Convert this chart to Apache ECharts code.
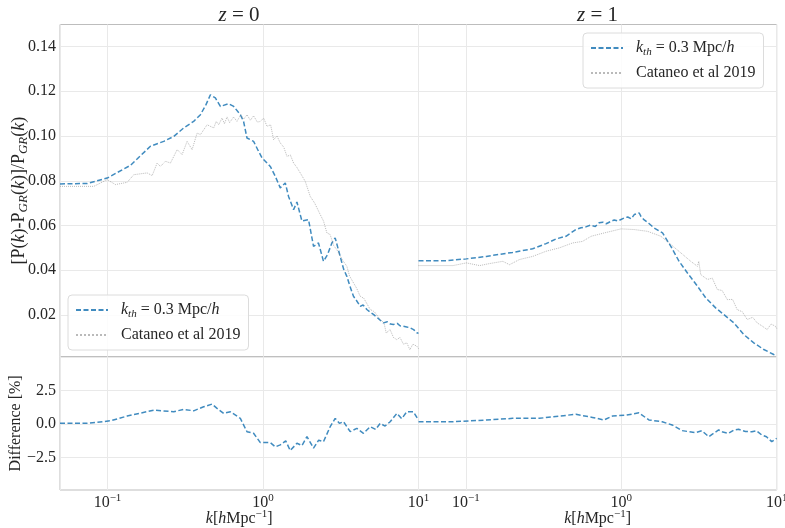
<!DOCTYPE html>
<html><head><meta charset="utf-8">
<script src="https://cdn.jsdelivr.net/npm/echarts@6/dist/echarts.min.js"></script>
<style>html,body{margin:0;padding:0;background:#fff}#c{width:785px;height:528px}</style>
</head><body><div id="c"></div>
<script>
// ---------------- data ----------------
const KMIN = 0.0495, KMAX = 10;
const NAME_K = 'k_th = 0.3 Mpc/h';
const NAME_C = 'Cataneo et al 2019';
const titles = ['z = 0', 'z = 1'];
const topTicks = [0.02, 0.04, 0.06, 0.08, 0.10, 0.12, 0.14];
const diffTicks = [-2.5, 0, 2.5];

// z = 0, k_th = 0.3
const z0BlueK = [0.0495,0.0741,0.0995,0.1406,0.1888,0.230,0.2666,0.309,0.358,0.396,0.430,0.459,0.494,0.532,0.601,0.648,0.715,0.750,0.789,0.870,0.937,0.986,1.114,1.199,1.291,1.391,1.460,1.573,1.653,1.780,1.963,2.113,2.274,2.449,2.60,2.773,2.912,3.136,3.30,3.461,3.62,3.818,3.95,4.05,4.215,4.40,4.654,4.85,5.131,5.40,5.65,5.953,6.30,6.60,6.90,7.30,7.60,8.00,8.40,8.83,9.30,9.75,10];
const z0BlueV = [0.0786,0.0788,0.0812,0.0869,0.0954,0.0976,0.0998,0.1036,0.1065,0.1095,0.1140,0.1184,0.1170,0.1132,0.1144,0.1132,0.1095,0.1065,0.0991,0.0976,0.0931,0.0902,0.0864,0.0820,0.0768,0.0790,0.0730,0.0671,0.0705,0.0620,0.0626,0.0507,0.0522,0.0440,0.0470,0.0522,0.0545,0.0462,0.0405,0.0373,0.0330,0.0284,0.0270,0.0262,0.0239,0.0245,0.0225,0.0215,0.0203,0.0190,0.0178,0.0165,0.0170,0.0160,0.0158,0.0163,0.0152,0.0150,0.0147,0.0143,0.0135,0.0121,0.0118];
// z = 0, Cataneo et al 2019
const z0GreyK = [0.0495,0.0817,0.0995,0.1125,0.1338,0.1476,0.1799,0.1937,0.2086,0.2189,0.236,0.254,0.2805,0.302,0.325,0.350,0.377,0.396,0.437,0.482,0.500,0.519,0.545,0.565,0.587,0.610,0.648,0.680,0.720,0.750,0.790,0.829,0.870,0.920,0.961,1.010,1.061,1.120,1.170,1.230,1.291,1.360,1.426,1.500,1.573,1.650,1.736,1.870,2.013,2.150,2.334,2.450,2.576,2.700,2.850,2.986,3.100,3.250,3.461,3.600,3.818,4.000,4.215,4.450,4.890,5.200,5.670,6.000,6.200,6.570,6.900,7.260,7.600,8.000,8.410,8.800,9.200,9.750,10];
const z0GreyV = [0.0775,0.0775,0.0805,0.0783,0.0793,0.0827,0.0835,0.0823,0.0879,0.0864,0.0887,0.0879,0.0939,0.0917,0.0976,0.0939,0.1013,0.1006,0.1050,0.1036,0.1065,0.1050,0.1080,0.1055,0.1085,0.1060,0.1085,0.1065,0.1095,0.1075,0.1095,0.1070,0.1090,0.1062,0.1065,0.1080,0.1043,0.1050,0.0983,0.1000,0.0969,0.0950,0.0909,0.0915,0.0879,0.0860,0.0835,0.0797,0.0730,0.0700,0.0649,0.0620,0.0567,0.0560,0.0510,0.0492,0.0470,0.0445,0.0418,0.0375,0.0344,0.0320,0.0284,0.0275,0.0225,0.0215,0.0180,0.0165,0.0120,0.0135,0.0100,0.0090,0.0100,0.0070,0.0076,0.0045,0.0070,0.0061,0.0050];
// z = 1, k_th = 0.3
const z1BlueK = [0.0495,0.0749,0.1006,0.1351,0.200,0.2688,0.3277,0.3797,0.440,0.510,0.550,0.591,0.630,0.680,0.7195,0.760,0.800,0.859,0.900,0.950,1.045,1.100,1.160,1.211,1.250,1.304,1.340,1.404,1.500,1.627,1.842,2.083,2.354,2.665,3.088,3.491,4.047,4.573,5.30,6.14,7.12,8.26,9.57,10];
const z1BlueV = [0.0443,0.0443,0.0451,0.0462,0.0480,0.0496,0.0519,0.0540,0.0552,0.0582,0.0590,0.0594,0.0601,0.0596,0.0612,0.0615,0.0608,0.0619,0.0625,0.0620,0.0634,0.0638,0.0630,0.0649,0.0652,0.0656,0.0640,0.0625,0.0610,0.0589,0.0567,0.0507,0.0440,0.0388,0.0329,0.0277,0.0232,0.0202,0.0165,0.0113,0.0076,0.0046,0.0024,0.0020];
// z = 1, Cataneo et al 2019
const z1GreyK = [0.0495,0.0825,0.1006,0.1224,0.1418,0.1727,0.1907,0.2209,0.2688,0.3277,0.3987,0.485,0.5623,0.6395,0.778,0.9956,1.211,1.476,1.797,2.083,2.414,2.798,3.088,3.15,3.243,3.58,3.85,4.15,4.45,4.81,5.2,5.57,6.0,6.46,7.0,7.49,8.1,8.68,9.2,9.81,10];
const z1GreyV = [0.0421,0.0421,0.0433,0.0421,0.0430,0.0440,0.0425,0.0448,0.0462,0.0485,0.0500,0.0522,0.0529,0.0552,0.0567,0.0585,0.0582,0.0574,0.0552,0.0515,0.0478,0.0440,0.0418,0.0440,0.0381,0.0359,0.0365,0.0314,0.0310,0.0269,0.0270,0.0224,0.0215,0.0180,0.0190,0.0165,0.0150,0.0135,0.0160,0.0150,0.0140];
// Difference [%]
const z0DiffK = [0.0495,0.0742,0.1046,0.1338,0.1983,0.2666,0.309,0.358,0.4153,0.4705,0.5065,0.5584,0.6166,0.715,0.789,0.870,0.961,1.114,1.20,1.291,1.40,1.497,1.653,1.78,1.917,2.113,2.28,2.449,2.705,2.912,3.10,3.294,3.636,4.015,4.428,4.89,5.30,5.67,6.10,6.57,7.26,7.80,8.41,9.27,10];
const z0DiffV = [0.05,0.05,0.24,0.59,1.03,0.91,1.09,0.98,1.28,1.48,1.16,0.79,0.91,0.42,-0.57,-0.69,-1.38,-1.38,-1.70,-1.55,-1.25,-1.97,-1.43,-1.60,-0.94,-1.79,-1.20,-1.31,-0.20,0.42,0.05,0.17,-0.57,-0.32,-0.69,-0.20,-0.40,0.05,-0.15,0.17,0.79,0.40,0.91,0.91,0.30];
const z1DiffK = [0.0495,0.0825,0.1351,0.200,0.2969,0.361,0.510,0.6518,0.7744,0.8756,1.072,1.299,1.505,1.832,2.123,2.46,3.0,3.3,3.65,4.23,4.5,4.9,5.3,5.68,6.3,6.92,7.4,8.01,8.6,9.29,10];
const z1DiffV = [0.17,0.17,0.30,0.42,0.42,0.54,0.72,0.49,0.30,0.59,0.66,0.83,0.30,0.17,-0.07,-0.49,-0.64,-0.50,-0.94,-0.44,-0.60,-0.69,-0.45,-0.39,-0.55,-0.57,-0.50,-0.81,-0.95,-1.31,-1.06];

// ---------------- chart ----------------
const FONT = 'Liberation Serif';
const TXT = '#262626';
const BLUE = 'rgba(31,119,180,0.85)';
const GREY = 'rgba(130,130,130,0.55)';
const GRIDC = '#e9e9e9';
const FRAME = '#bdbdbd';
const pairs = (ks, vs) => ks.map((k, i) => [k, vs[i]]);

const rich = {
  r: {fontFamily: FONT, fontSize: 16, color: TXT, lineHeight: 20},
  i: {fontFamily: FONT, fontSize: 16, fontStyle: 'italic', color: TXT, lineHeight: 20},
  sub: {fontFamily: FONT, fontSize: 11, fontStyle: 'italic', color: TXT, lineHeight: 13, verticalAlign: 'bottom'},
  sup: {fontFamily: FONT, fontSize: 11, color: TXT, lineHeight: 13, verticalAlign: 'top'}
};
const richBig = {
  i: {fontFamily: FONT, fontSize: 18, fontStyle: 'italic', color: TXT, lineHeight: 22},
  sub: {fontFamily: FONT, fontSize: 13, fontStyle: 'italic', color: TXT, lineHeight: 14, verticalAlign: 'bottom'}
};

const grids = [
  {left: 60, top: 24.5, width: 358.5, height: 332.2},
  {left: 418.5, top: 24.5, width: 358.2, height: 332.2},
  {left: 60, top: 356.7, width: 358.5, height: 133.3},
  {left: 418.5, top: 356.7, width: 358.2, height: 133.3}
].map(g => Object.assign({show: true, borderColor: FRAME, borderWidth: 1, backgroundColor: 'transparent', containLabel: false, outerBoundsMode: 'none'}, g));

function xAxis(i) {
  const bottom = i >= 2;
  return {
    type: 'log', logBase: 10, gridIndex: i, min: KMIN, max: KMAX,
    axisLine: {show: false}, axisTick: {show: false}, minorTick: {show: false},
    splitLine: {show: true, lineStyle: {color: GRIDC, width: 1}},
    axisLabel: {
      show: bottom, showMinLabel: false, margin: 3,
      formatter: v => { const e = Math.round(Math.log10(v)); return '{r|10}{sup|' + (e < 0 ? '\u2212' : '') + Math.abs(e) + '}'; },
      rich: rich
    },
    name: bottom ? '{i|k}[{i|h}Mpc{sup|\u22121}]' : '',
    nameLocation: 'middle', nameGap: 19, nameMoveOverlap: false,
    nameTextStyle: {fontFamily: FONT, fontSize: 16, color: TXT, lineHeight: 20, rich: rich}
  };
}
function yAxis(i) {
  const top = i < 2, left = i % 2 === 0;
  const ticks = top ? topTicks : diffTicks;
  return {
    type: 'value', gridIndex: i,
    min: top ? 0.0014 : -4.9, max: top ? 0.1498 : 5.0,
    axisLine: {show: false},
    axisTick: {show: false, customValues: ticks},
    splitLine: {show: true, lineStyle: {color: GRIDC, width: 1}},
    axisLabel: {
      show: left, customValues: ticks, margin: 4,
      fontFamily: FONT, fontSize: 16, color: TXT,
      formatter: v => top ? v.toFixed(2) : ((v < 0 ? '\u2212' : '') + Math.abs(v).toFixed(1))
    },
    name: left ? (top ? '[P({i|k})-P{sub|GR}({i|k})]/P{sub|GR}({i|k})' : 'Difference [%]') : '',
    nameLocation: 'middle', nameRotate: 90, nameGap: top ? 30 : 34.5, nameMoveOverlap: false,
    nameTextStyle: top
      ? {fontFamily: FONT, fontSize: 18, color: TXT, lineHeight: 22, rich: richBig}
      : {fontFamily: FONT, fontSize: 16, color: TXT, lineHeight: 20, rich: rich}
  };
}

function legend(left, top) {
  return {
    data: [NAME_K, NAME_C], orient: 'vertical', left: left, top: top,
    itemWidth: 32, itemHeight: 14, itemGap: 5,
    padding: [5, 8, 5, 7],
    backgroundColor: 'rgba(255,255,255,0.85)', borderColor: '#dcdcdc', borderWidth: 1, borderRadius: 4,
    itemStyle: {opacity: 0, color: 'rgba(0,0,0,0)', borderWidth: 0},
    textStyle: {fontFamily: FONT, fontSize: 16, color: TXT, lineHeight: 20, rich: rich},
    formatter: n => n === NAME_K ? '  {i|k}{sub|th} = 0.3 Mpc/{i|h}' : '  Cataneo et al 2019',
    selectedMode: false
  };
}

function line(name, data, i, color, type, width) {
  return {
    name: name, type: 'line', xAxisIndex: i, yAxisIndex: i, data: data,
    symbol: 'none', showSymbol: false, animation: false, silent: true,
    lineStyle: {color: color, width: width, type: type}, itemStyle: {color: color}
  };
}

const DASH = [5, 2.5];
const option = {
  animation: false,
  backgroundColor: '#fff',
  grid: grids,
  xAxis: [0, 1, 2, 3].map(xAxis),
  yAxis: [0, 1, 2, 3].map(yAxis),
  legend: [legend(68, 295), legend(583, 33)],
  graphic: titles.map((t, j) => ({
    type: 'text', x: j === 0 ? 239 : 597.5, y: 15,
    style: {
      text: '{i|z}' + t.slice(1), fontFamily: FONT, fontSize: 21, fill: TXT,
      align: 'center', verticalAlign: 'middle', textAlign: 'center', textVerticalAlign: 'middle',
      rich: {i: {fontFamily: FONT, fontSize: 21, fontStyle: 'italic', fill: TXT}}
    }
  })),
  series: [
    line(NAME_K, pairs(z0BlueK, z0BlueV), 0, BLUE, DASH, 1.5),
    line(NAME_C, pairs(z0GreyK, z0GreyV), 0, GREY, 'dotted', 1),
    line(NAME_K, pairs(z1BlueK, z1BlueV), 1, BLUE, DASH, 1.5),
    line(NAME_C, pairs(z1GreyK, z1GreyV), 1, GREY, 'dotted', 1),
    line('diff0', pairs(z0DiffK, z0DiffV), 2, BLUE, DASH, 1.5),
    line('diff1', pairs(z1DiffK, z1DiffV), 3, BLUE, DASH, 1.5)
  ]
};
const chart = echarts.init(document.getElementById('c'), null, {renderer: 'canvas'});
chart.setOption(option);
</script>
</body></html>
